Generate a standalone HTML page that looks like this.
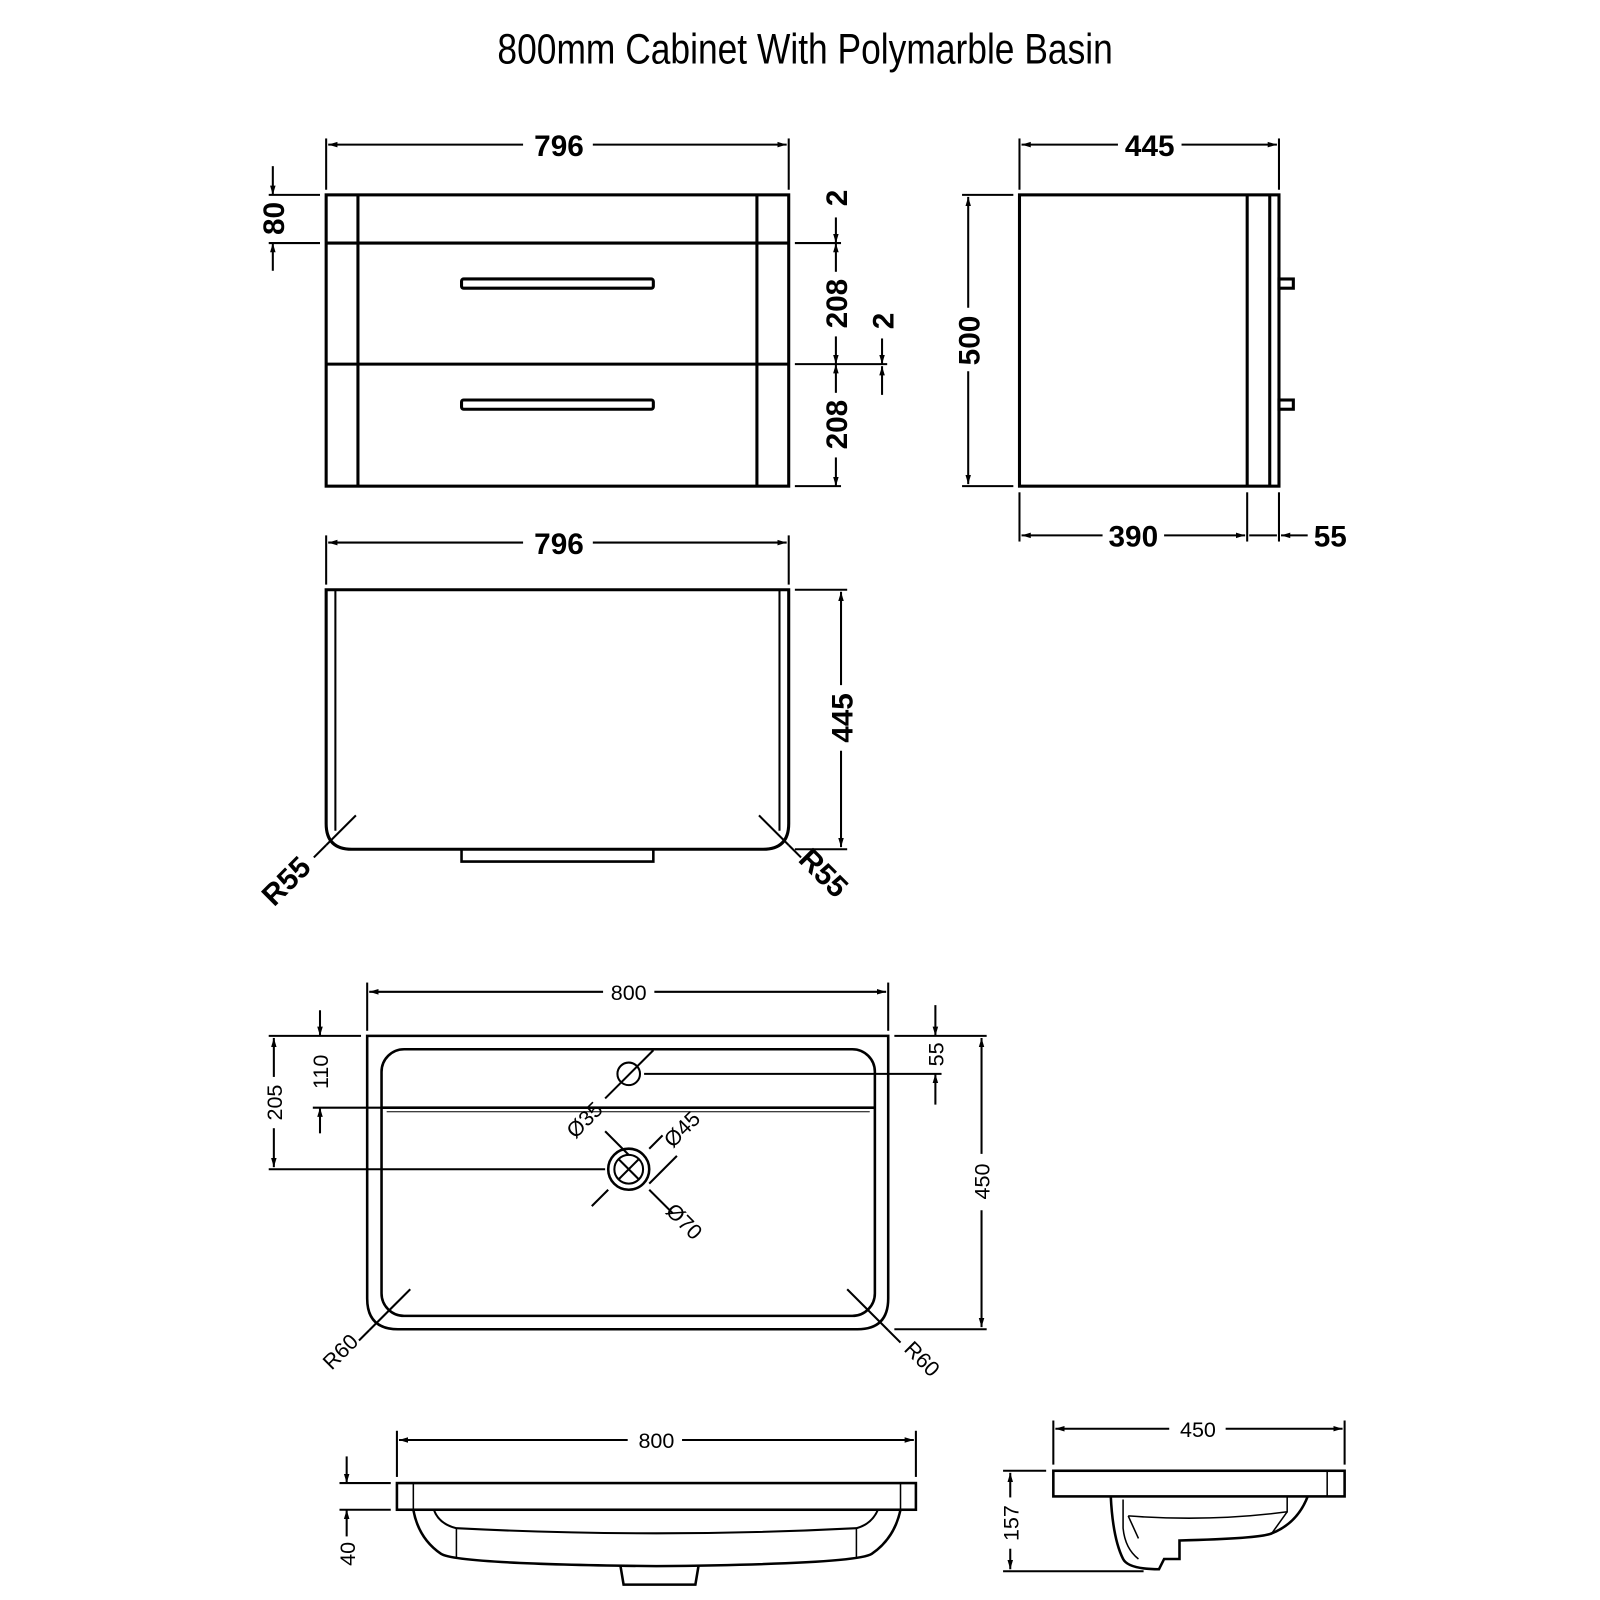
<!DOCTYPE html>
<html><head><meta charset="utf-8"><style>
html,body{margin:0;padding:0;background:#fff;width:1600px;height:1600px;overflow:hidden}
svg{display:block}
.b{font-family:"Liberation Sans",sans-serif;font-weight:bold;font-size:29px;fill:#000}
.n{font-family:"Liberation Sans",sans-serif;font-size:21px;fill:#000}
</style></head><body>
<svg width="1600" height="1600" viewBox="0 0 1560 1560" xmlns="http://www.w3.org/2000/svg">
<defs>
<marker id="a" viewBox="0 0 10 10" refX="10" refY="5" markerWidth="9" markerHeight="9" orient="auto-start-reverse" markerUnits="userSpaceOnUse"><path d="M0,2 L10,5 L0,8 z" fill="#000"/></marker>
</defs>
<text x="785" y="62" text-anchor="middle" font-family="Liberation Sans, sans-serif" font-size="42" textLength="600" lengthAdjust="spacingAndGlyphs">800mm Cabinet With Polymarble Basin</text>

<g stroke="#000" fill="none" stroke-width="3">
<rect x="318" y="190" width="451" height="284"/>
<line x1="349" y1="190" x2="349" y2="474"/><line x1="738" y1="190" x2="738" y2="474"/>
<line x1="318" y1="237" x2="769" y2="237"/><line x1="318" y1="355" x2="769" y2="355"/>
<rect x="450" y="272" width="187" height="9" rx="2"/><rect x="450" y="390" width="187" height="9" rx="2"/>
<g stroke-width="2">
<line x1="318" y1="135" x2="318" y2="185"/><line x1="769" y1="135" x2="769" y2="185"/>
<line x1="320" y1="141" x2="510" y2="141" marker-start="url(#a)"/><line x1="578" y1="141" x2="767" y2="141" marker-end="url(#a)"/>
<line x1="262" y1="190" x2="312" y2="190"/><line x1="262" y1="237" x2="312" y2="237"/>
<line x1="266" y1="162" x2="266" y2="190" marker-end="url(#a)"/><line x1="266" y1="264" x2="266" y2="237" marker-end="url(#a)"/>
<line x1="775" y1="237" x2="820" y2="237"/><line x1="775" y1="355" x2="865" y2="355"/><line x1="775" y1="474" x2="820" y2="474"/>
<line x1="815" y1="212" x2="815" y2="237" marker-end="url(#a)"/>
<line x1="815" y1="237" x2="815" y2="265" marker-start="url(#a)"/><line x1="815" y1="328" x2="815" y2="355" marker-end="url(#a)"/>
<line x1="815" y1="355" x2="815" y2="383" marker-start="url(#a)"/><line x1="815" y1="446" x2="815" y2="474" marker-end="url(#a)"/>
<line x1="860" y1="330" x2="860" y2="355" marker-end="url(#a)"/><line x1="860" y1="385" x2="860" y2="357" marker-end="url(#a)"/>
</g>
<rect x="994" y="190" width="253" height="284"/>
<line x1="1216" y1="190" x2="1216" y2="474"/><line x1="1238" y1="190" x2="1238" y2="474"/>
<rect x="1247" y="272" width="14" height="9"/><rect x="1247" y="390" width="14" height="9"/>
<g stroke-width="2">
<line x1="994" y1="135" x2="994" y2="185"/><line x1="1247" y1="135" x2="1247" y2="185"/>
<line x1="996" y1="141" x2="1090" y2="141" marker-start="url(#a)"/><line x1="1152" y1="141" x2="1245" y2="141" marker-end="url(#a)"/>
<line x1="938" y1="190" x2="988" y2="190"/><line x1="938" y1="474" x2="988" y2="474"/>
<line x1="944" y1="192" x2="944" y2="300" marker-start="url(#a)"/><line x1="944" y1="362" x2="944" y2="472" marker-end="url(#a)"/>
<line x1="994" y1="480" x2="994" y2="528"/><line x1="1216" y1="480" x2="1216" y2="528"/><line x1="1247" y1="480" x2="1247" y2="528"/>
<line x1="996" y1="522" x2="1075" y2="522" marker-start="url(#a)"/><line x1="1135" y1="522" x2="1214" y2="522" marker-end="url(#a)"/>
<line x1="1218" y1="522" x2="1245" y2="522"/><line x1="1249" y1="522" x2="1275" y2="522" marker-start="url(#a)"/>
</g>
<path d="M318,575 H769 V803 Q769,828 744,828 H343 Q318,828 318,803 Z"/>
<line x1="327" y1="575" x2="327" y2="810" stroke-width="2"/><line x1="760" y1="575" x2="760" y2="810" stroke-width="2"/>
<path d="M450,828 V840 H637 V828" stroke-width="2.5"/>
<g stroke-width="2">
<line x1="318" y1="522" x2="318" y2="570"/><line x1="769" y1="522" x2="769" y2="570"/>
<line x1="320" y1="529" x2="510" y2="529" marker-start="url(#a)"/><line x1="578" y1="529" x2="767" y2="529" marker-end="url(#a)"/>
<line x1="775" y1="575" x2="826" y2="575"/><line x1="775" y1="828" x2="826" y2="828"/>
<line x1="820" y1="577" x2="820" y2="668" marker-start="url(#a)"/><line x1="820" y1="732" x2="820" y2="826" marker-end="url(#a)"/>
<line x1="347" y1="795" x2="318" y2="824"/><line x1="318" y1="824" x2="306" y2="836"/>
<line x1="740" y1="795" x2="769" y2="824"/><line x1="769" y1="824" x2="781" y2="836"/>
</g>
<path d="M358,1010 H866 V1266 Q866,1296 836,1296 H388 Q358,1296 358,1266 Z" stroke-width="2.5"/>
<rect x="372" y="1023" width="481" height="260" rx="22" stroke-width="2.5"/>
<line x1="372" y1="1080" x2="853" y2="1080" stroke-width="2.5"/>
<line x1="377" y1="1084" x2="848" y2="1084" stroke-width="1"/>
<circle cx="613" cy="1047" r="11" stroke-width="2"/>
<circle cx="613" cy="1140" r="20" stroke-width="2.5"/><circle cx="613" cy="1140" r="14" stroke-width="2"/>
<line x1="603" y1="1130" x2="623" y2="1150" stroke-width="2"/><line x1="623" y1="1130" x2="603" y2="1150" stroke-width="2"/>
<g stroke-width="2">
<line x1="358" y1="958" x2="358" y2="1005"/><line x1="866" y1="958" x2="866" y2="1005"/>
<line x1="360" y1="967" x2="588" y2="967" marker-start="url(#a)"/><line x1="638" y1="967" x2="864" y2="967" marker-end="url(#a)"/>
<line x1="262" y1="1010" x2="352" y2="1010"/><line x1="262" y1="1140" x2="590" y2="1140"/>
<line x1="305" y1="1080" x2="372" y2="1080"/>
<line x1="267" y1="1012" x2="267" y2="1050" marker-start="url(#a)"/><line x1="267" y1="1100" x2="267" y2="1138" marker-end="url(#a)"/>
<line x1="312" y1="985" x2="312" y2="1010" marker-end="url(#a)"/><line x1="312" y1="1105" x2="312" y2="1080" marker-end="url(#a)"/>
<line x1="628" y1="1047" x2="918" y2="1047"/><line x1="872" y1="1010" x2="962" y2="1010"/><line x1="872" y1="1296" x2="962" y2="1296"/>
<line x1="912" y1="980" x2="912" y2="1010" marker-end="url(#a)"/><line x1="912" y1="1077" x2="912" y2="1047" marker-end="url(#a)"/>
<line x1="957" y1="1012" x2="957" y2="1125" marker-start="url(#a)"/><line x1="957" y1="1180" x2="957" y2="1294" marker-end="url(#a)"/>
<line x1="637" y1="1024" x2="605" y2="1056"/><line x1="605" y1="1056" x2="590" y2="1071"/>
<line x1="590" y1="1103" x2="613" y2="1126"/><line x1="660" y1="1127" x2="633" y2="1154"/><line x1="593" y1="1160" x2="577" y2="1176"/>
<line x1="633" y1="1160" x2="656" y2="1183"/><line x1="633" y1="1120" x2="646" y2="1107"/>
<line x1="400" y1="1257" x2="360" y2="1297"/><line x1="360" y1="1297" x2="350" y2="1307"/>
<line x1="826" y1="1257" x2="866" y2="1297"/><line x1="866" y1="1297" x2="878" y2="1309"/>
</g>
<rect x="387" y="1446" width="506" height="26" stroke-width="2.5"/>
<line x1="403" y1="1446" x2="403" y2="1472" stroke-width="1.5"/><line x1="878" y1="1446" x2="878" y2="1472" stroke-width="1.5"/>
<path d="M403,1472 Q408,1500 430,1515 Q445,1525 640,1527 Q835,1525 850,1515 Q872,1500 878,1472" stroke-width="2.5"/>
<path d="M423,1472 Q428,1486 445,1490 Q640,1500 835,1490 Q850,1486 856,1472" stroke-width="2"/>
<line x1="445" y1="1490" x2="445" y2="1520" stroke-width="1.5"/><line x1="835" y1="1490" x2="835" y2="1520" stroke-width="1.5"/>
<path d="M605,1527 L608,1545 H678 L681,1527" stroke-width="2.5"/>
<g stroke-width="2">
<line x1="387" y1="1395" x2="387" y2="1440"/><line x1="893" y1="1395" x2="893" y2="1440"/>
<line x1="389" y1="1404" x2="612" y2="1404" marker-start="url(#a)"/><line x1="665" y1="1404" x2="891" y2="1404" marker-end="url(#a)"/>
<line x1="331" y1="1446" x2="381" y2="1446"/><line x1="331" y1="1472" x2="381" y2="1472"/>
<line x1="338" y1="1420" x2="338" y2="1446" marker-end="url(#a)"/><line x1="338" y1="1498" x2="338" y2="1472" marker-end="url(#a)"/>
</g>
<rect x="1027" y="1434" width="284" height="25" stroke-width="2.5"/>
<line x1="1294" y1="1434" x2="1294" y2="1459" stroke-width="1.5"/>
<path d="M1083,1459 Q1085,1500 1095,1520 Q1100,1530 1130,1530 L1135,1520 H1150 V1502 Q1230,1500 1240,1495 Q1265,1485 1275,1459" stroke-width="2.5"/>
<path d="M1095,1462 V1490 Q1097,1510 1110,1520" stroke-width="1.5"/>
<path d="M1100,1478 Q1180,1484 1255,1474 V1459" stroke-width="1.5"/>
<line x1="1255" y1="1474" x2="1240" y2="1495" stroke-width="1.5"/>
<line x1="1100" y1="1478" x2="1110" y2="1500" stroke-width="1.5"/>
<g stroke-width="2">
<line x1="1027" y1="1385" x2="1027" y2="1428"/><line x1="1311" y1="1385" x2="1311" y2="1428"/>
<line x1="1029" y1="1393" x2="1140" y2="1393" marker-start="url(#a)"/><line x1="1195" y1="1393" x2="1309" y2="1393" marker-end="url(#a)"/>
<line x1="978" y1="1434" x2="1020" y2="1434"/><line x1="978" y1="1532" x2="1115" y2="1532"/>
<line x1="985" y1="1436" x2="985" y2="1460" marker-start="url(#a)"/><line x1="985" y1="1510" x2="985" y2="1530" marker-end="url(#a)"/>
</g>
</g>

<text class="b" x="545" y="152" text-anchor="middle">796</text>
<text class="b" x="1121" y="152" text-anchor="middle">445</text>
<text class="b" x="545" y="540" text-anchor="middle">796</text>
<text class="b" x="1105" y="533" text-anchor="middle">390</text>
<text class="b" x="1297" y="533" text-anchor="middle">55</text>
<text class="b" transform="translate(277,213) rotate(-90)" text-anchor="middle">80</text>
<text class="b" transform="translate(826,193) rotate(-90)" text-anchor="middle">2</text>
<text class="b" transform="translate(826,296) rotate(-90)" text-anchor="middle">208</text>
<text class="b" transform="translate(826,414) rotate(-90)" text-anchor="middle">208</text>
<text class="b" transform="translate(871,313) rotate(-90)" text-anchor="middle">2</text>
<text class="b" transform="translate(955,332) rotate(-90)" text-anchor="middle">500</text>
<text class="b" transform="translate(831,700) rotate(-90)" text-anchor="middle">445</text>
<text class="b" transform="translate(286,866) rotate(-45)" text-anchor="middle">R55</text>
<text class="b" transform="translate(796,858) rotate(45)" text-anchor="middle">R55</text>
<text class="n" x="613" y="975" text-anchor="middle">800</text>
<text class="n" transform="translate(275,1075) rotate(-90)" text-anchor="middle">205</text>
<text class="n" transform="translate(320,1045) rotate(-90)" text-anchor="middle">110</text>
<text class="n" transform="translate(920,1028) rotate(-90)" text-anchor="middle">55</text>
<text class="n" transform="translate(965,1152) rotate(-90)" text-anchor="middle">450</text>
<text class="n" transform="translate(575,1097) rotate(-45)" text-anchor="middle">Ø35</text>
<text class="n" transform="translate(670,1106) rotate(-45)" text-anchor="middle">Ø45</text>
<text class="n" transform="translate(662,1196) rotate(45)" text-anchor="middle">Ø70</text>
<text class="n" transform="translate(337,1323) rotate(-45)" text-anchor="middle">R60</text>
<text class="n" transform="translate(894,1330) rotate(45)" text-anchor="middle">R60</text>
<text class="n" x="640" y="1412" text-anchor="middle">800</text>
<text class="n" x="1168" y="1401" text-anchor="middle">450</text>
<text class="n" transform="translate(346,1515) rotate(-90)" text-anchor="middle">40</text>
<text class="n" transform="translate(993,1485) rotate(-90)" text-anchor="middle">157</text>
</svg>
</body></html>
